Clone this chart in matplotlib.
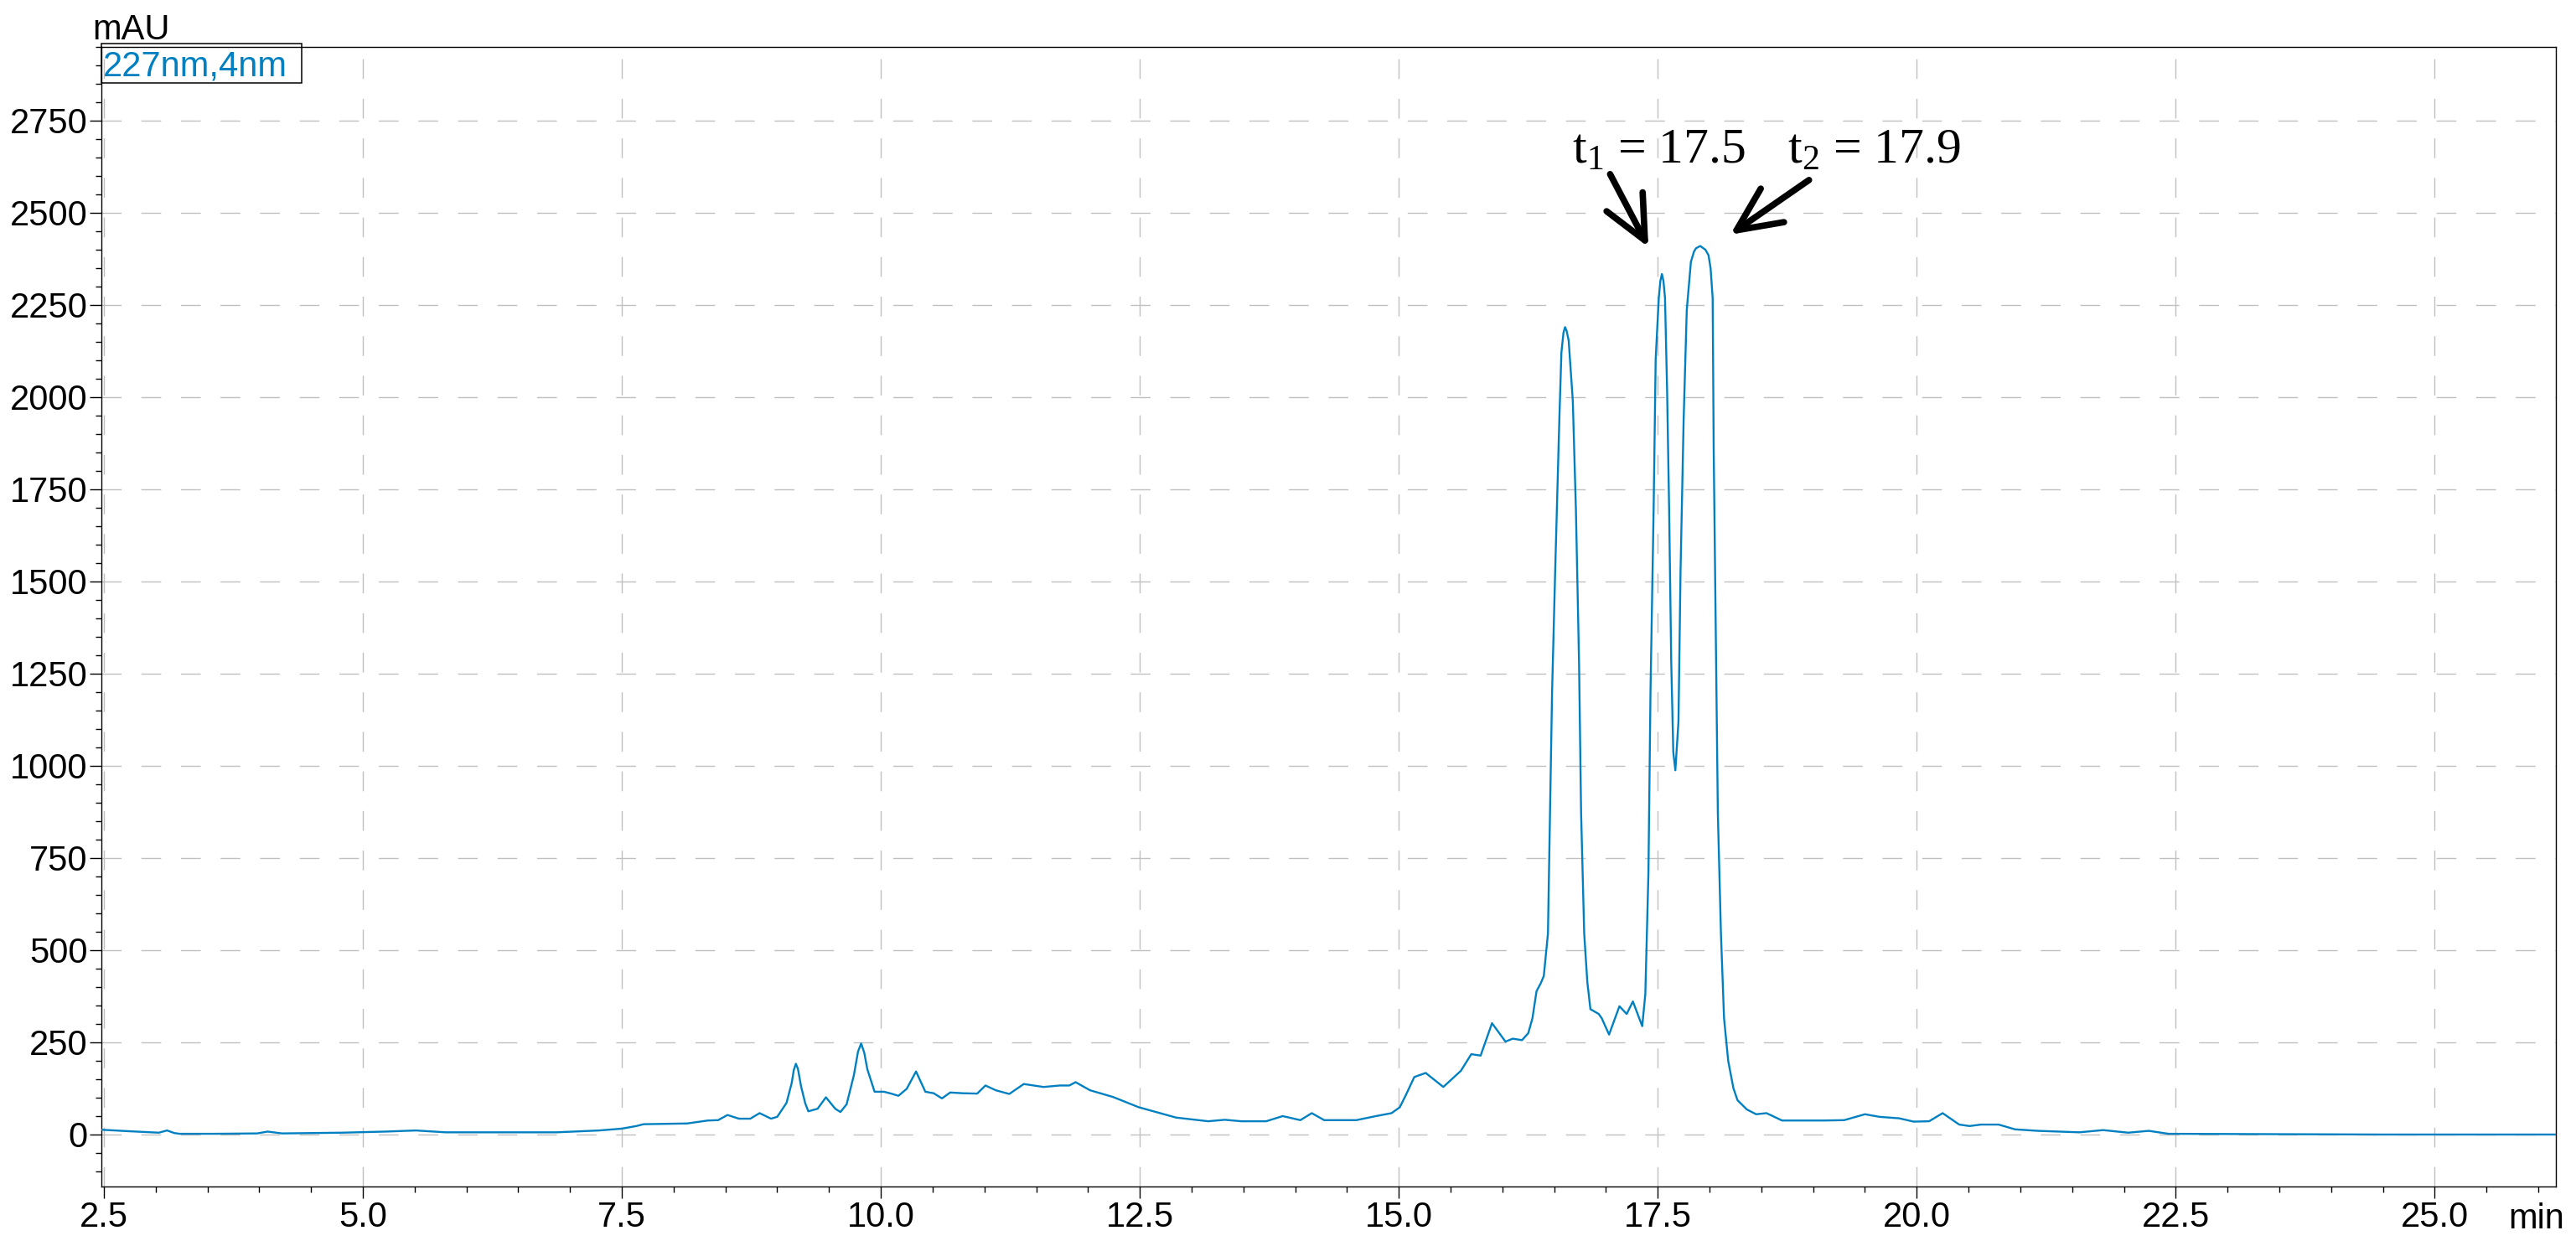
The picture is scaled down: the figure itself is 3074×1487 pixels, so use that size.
import matplotlib
matplotlib.use("Agg")
import matplotlib.pyplot as plt
from matplotlib.patches import Rectangle
from matplotlib.ticker import MultipleLocator, FormatStrFormatter

# chromatogram trace (min, mAU)
rt_min = [
    2.476, 2.74, 3.03, 3.11, 3.18, 3.23, 3.56, 3.98, 4.08, 4.22, 4.80, 5.22, 5.51, 5.80,
    6.87, 7.28, 7.50, 7.64, 7.71, 8.13, 8.33, 8.43, 8.52, 8.63, 8.74, 8.83, 8.94, 9.00,
    9.09, 9.14, 9.16, 9.18, 9.20, 9.23, 9.27, 9.30, 9.39, 9.47, 9.56, 9.61, 9.67, 9.74,
    9.78, 9.81, 9.84, 9.87, 9.94, 10.03, 10.10, 10.17, 10.25, 10.34, 10.43, 10.51, 10.59,
    10.67, 10.79, 10.93, 11.01, 11.11, 11.24, 11.38, 11.57, 11.73, 11.82, 11.88, 12.02,
    12.24, 12.49, 12.85, 13.16, 13.32, 13.48, 13.72, 13.88, 14.05, 14.16, 14.28, 14.59,
    14.78, 14.93, 15.01, 15.07, 15.15, 15.26, 15.43, 15.60, 15.70, 15.79, 15.90, 16.03,
    16.10, 16.19, 16.25, 16.29, 16.33, 16.37, 16.40, 16.44, 16.46, 16.48, 16.51, 16.55,
    16.57, 16.59, 16.605, 16.62, 16.64, 16.68, 16.71, 16.74, 16.76, 16.79, 16.82, 16.85,
    16.93, 16.96, 17.03, 17.13, 17.20, 17.26, 17.35, 17.38, 17.41, 17.43, 17.46, 17.48,
    17.51, 17.525, 17.54, 17.555, 17.57, 17.59, 17.61, 17.63, 17.65, 17.67, 17.70, 17.72,
    17.75, 17.78, 17.82, 17.85, 17.87, 17.91, 17.94, 17.96, 17.99, 18.01, 18.03, 18.04,
    18.06, 18.08, 18.11, 18.14, 18.18, 18.23, 18.27, 18.36, 18.45, 18.55, 18.70, 19.10,
    19.30, 19.50, 19.64, 19.83, 19.97, 20.12, 20.25, 20.41, 20.51, 20.62, 20.79, 20.95,
    21.17, 21.57, 21.80, 22.04, 22.24, 22.43, 23.41, 24.50, 26.17,
]
absorbance_mau = [
    13, 9, 5, 11, 4, 2, 2, 3, 8, 3, 5, 8, 11, 6,
    6, 11, 16, 23, 28, 30, 38, 39, 53, 43, 43, 58, 43, 48,
    86, 140, 175, 192, 178, 131, 85, 63, 70, 101, 70, 61, 82, 161,
    225, 247, 222, 177, 116, 116, 111, 105, 124, 171, 116, 112, 98,
    114, 112, 111, 133, 120, 110, 137, 129, 133, 133, 142, 120,
    102, 74, 46, 36, 40, 36, 36, 50, 39, 58, 39, 39,
    50, 58, 74, 108, 156, 167, 129, 173, 218, 214, 302, 252,
    260, 256, 275, 315, 389, 410, 430, 545, 873, 1202, 1530, 1940,
    2121, 2175, 2190, 2180, 2154, 1990, 1694, 1284, 873, 545, 414, 340,
    327, 315, 271, 348, 327, 361, 294, 381, 709, 1202, 1694, 2104,
    2269, 2315, 2334, 2315, 2269, 2022, 1694, 1284, 1037, 988, 1120, 1530,
    1940, 2236, 2367, 2395, 2404, 2410, 2404, 2400, 2385, 2350, 2269, 1858,
    1366, 873, 545, 315, 200, 126, 93, 68, 55, 58, 38, 38,
    39, 55, 48, 44, 35, 36, 58, 27, 23, 27, 27, 14,
    10, 6, 12, 5, 10, 2, 1, 0, 0,
]

# peak labels: (text, text x, text y, arrow tail, arrow tip)
peak_labels = ["t$_{1}$ = 17.5", "t$_{2}$ = 17.9"]
label_xy = [(16.67, 2634), (18.75, 2634)]
arrow_tail = [(17.04, 2605), (18.96, 2589)]
arrow_tip = [(17.41, 2407), (18.20, 2441)]

channel_label = "227nm,4nm"
trace_color = "#0080c0"

plt.rcParams["font.family"] = ["Liberation Sans", "DejaVu Sans"]
plt.rcParams["mathtext.fontset"] = "custom"
plt.rcParams["mathtext.rm"] = "Liberation Serif"
plt.rcParams["mathtext.it"] = "Liberation Serif:italic"

W, H = 3074, 1487
fig = plt.figure(figsize=(W / 100, H / 100), dpi=100)
ax = fig.add_axes([121 / W, 1 - 1416 / H, (3050 - 121) / W, (1416 - 56) / H])

ax.plot(rt_min, absorbance_mau, color=trace_color, lw=1.7, zorder=3)

ax.set_xlim(2.476, 26.17)
ax.set_ylim(-141, 2950)

ax.xaxis.set_major_locator(MultipleLocator(2.5))
ax.xaxis.set_minor_locator(MultipleLocator(0.5))
ax.xaxis.set_major_formatter(FormatStrFormatter("%.1f"))
ax.yaxis.set_major_locator(MultipleLocator(250))
ax.yaxis.set_minor_locator(MultipleLocator(50))
ax.yaxis.set_major_formatter(FormatStrFormatter("%d"))

ax.tick_params(which="major", direction="out", length=10, width=1.0, labelsize=30, pad=2)
ax.tick_params(which="minor", direction="out", length=5, width=1.0)

ax.grid(True, which="major", color="#c0c0c0", lw=1.0, dashes=(17, 17), zorder=1)
for sp in ax.spines.values():
    sp.set_linewidth(1.0)
    sp.set_color("black")

# axis unit labels as on the instrument printout
fig.text(110 / W, 1 - 47 / H, "mAU", fontsize=30, va="baseline", ha="left")
fig.text(3060 / W, 1 - 1466 / H, "min", fontsize=30, va="baseline", ha="right")

# channel legend box
fig.patches.append(Rectangle((121 / W, 1 - 99 / H), 239 / W, 47 / H, transform=fig.transFigure,
                             fill=False, edgecolor="black", lw=1.1, zorder=5))
fig.text(123 / W, 1 - 91 / H, channel_label, fontsize=30, color=trace_color, va="baseline", ha="left")

for txt, (tx, ty), tail, tip in zip(peak_labels, label_xy, arrow_tail, arrow_tip):
    ax.text(tx, ty, txt, fontsize=43, family="Liberation Serif", va="baseline", ha="left", zorder=6)
    ax.annotate("", xy=tip, xytext=tail,
                arrowprops=dict(arrowstyle="->,head_length=0.75,head_width=0.35",
                                mutation_scale=50, lw=5.5, color="black",
                                shrinkA=0, shrinkB=0), zorder=6)

fig.savefig("out.png", dpi=100)
